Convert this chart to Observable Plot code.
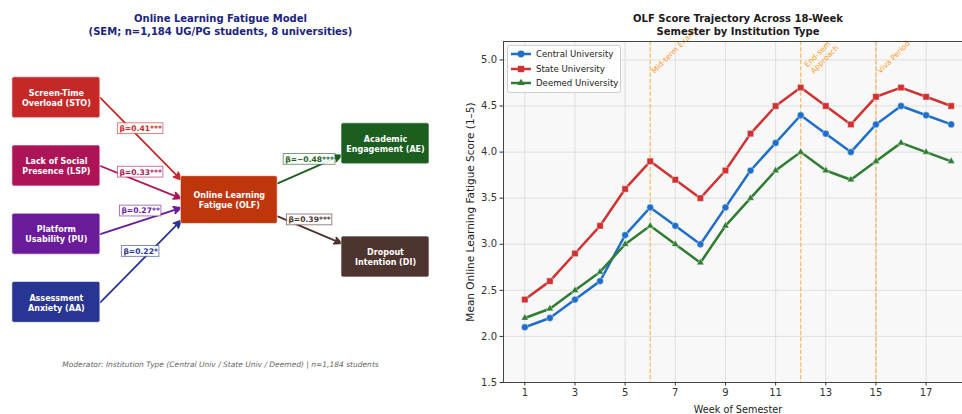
<!DOCTYPE html>
<html>
<head>
<meta charset="utf-8">
<script src="https://cdn.jsdelivr.net/npm/d3@7"></script>
<script src="https://cdn.jsdelivr.net/npm/@observablehq/plot@0.6"></script>
<style>
  html, body { margin: 0; padding: 0; background: #fff; }
  #wrap { position: relative; width: 962px; height: 414px; overflow: hidden; font-family: "DejaVu Sans", sans-serif; }
  #left { position: absolute; left: 0; top: 0; width: 460px; height: 414px; }
  #right { position: absolute; left: 460px; top: 0; width: 512px; height: 414px; }
  #legend { position: absolute; left: 507px; top: 45px; width: 114px; height: 48px; box-sizing: border-box;
            border: 1px solid #cfcfcf; border-radius: 3px; background: rgba(255,255,255,0.85);
            padding: 1px 4px 0 2px; font-size: 8.6px; color: #222; }
  #legend .row { display: flex; align-items: center; height: 14.5px; white-space: nowrap; }
  #legend svg { flex: none; margin-right: 4px; }
</style>
</head>
<body>
<div id="wrap">
  <div id="left"></div>
  <div id="right"></div>
  <div id="legend"></div>
</div>
<script>
// ---------------- data: SEM diagram ----------------
const nodeIds = ["STO", "LSP", "PU", "AA", "OLF", "AE", "DI"];
const nodeLabels = [
  "Screen-Time\nOverload (STO)",
  "Lack of Social\nPresence (LSP)",
  "Platform\nUsability (PU)",
  "Assessment\nAnxiety (AA)",
  "Online Learning\nFatigue (OLF)",
  "Academic\nEngagement (AE)",
  "Dropout\nIntention (DI)"
];
const pathFrom = ["STO", "LSP", "PU", "AA", "OLF", "OLF"];
const pathTo   = ["OLF", "OLF", "OLF", "OLF", "AE", "DI"];
const pathBeta = [0.41, 0.33, 0.27, 0.22, -0.48, 0.39];
const pathSig  = ["***", "***", "**", "*", "***", "***"];
const leftTitle = "Online Learning Fatigue Model\n(SEM; n=1,184 UG/PG students, 8 universities)";
const moderatorNote = "Moderator: Institution Type (Central Univ / State Univ / Deemed) | n=1,184 students";

// ---------------- data: trajectory chart ----------------
const weeks = [1, 2, 3, 4, 5, 6, 7, 8, 9, 10, 11, 12, 13, 14, 15, 16, 17, 18];
const centralUniv = [2.1, 2.2, 2.4, 2.6, 3.1, 3.4, 3.2, 3.0, 3.4, 3.8, 4.1, 4.4, 4.2, 4.0, 4.3, 4.5, 4.4, 4.3];
const stateUniv   = [2.4, 2.6, 2.9, 3.2, 3.6, 3.9, 3.7, 3.5, 3.8, 4.2, 4.5, 4.7, 4.5, 4.3, 4.6, 4.7, 4.6, 4.5];
const deemedUniv  = [2.2, 2.3, 2.5, 2.7, 3.0, 3.2, 3.0, 2.8, 3.2, 3.5, 3.8, 4.0, 3.8, 3.7, 3.9, 4.1, 4.0, 3.9];
const seriesNames = ["Central University", "State University", "Deemed University"];
const eventWeeks  = [6, 12, 15];
const eventLabels = ["Mid-term Exams", "End-sem\nApproach", "Viva Period"];
const xTicks = [1, 3, 5, 7, 9, 11, 13, 15, 17];
const yTicks = [1.5, 2.0, 2.5, 3.0, 3.5, 4.0, 4.5, 5.0];
const rightTitle = "OLF Score Trajectory Across 18-Week\nSemester by Institution Type";
const xLabel = "Week of Semester";
const yLabel = "Mean Online Learning Fatigue Score (1–5)";

// ---------------- layout & styles (diagram units 0–10) ----------------
const layout = {
  STO: {cx: 1.27, cy: 8.35, w: 2.0, h: 1.2},
  LSP: {cx: 1.27, cy: 6.35, w: 2.0, h: 1.2},
  PU:  {cx: 1.27, cy: 4.35, w: 2.0, h: 1.2},
  AA:  {cx: 1.27, cy: 2.35, w: 2.0, h: 1.2},
  OLF: {cx: 5.2,  cy: 5.35, w: 2.2, h: 1.4},
  AE:  {cx: 8.75, cy: 7.0,  w: 2.0, h: 1.2},
  DI:  {cx: 8.75, cy: 3.68, w: 2.0, h: 1.2}
};
const pathAnchors = [
  {fromDy: 0, toDy: 0.6}, {fromDy: 0, toDy: 0.05}, {fromDy: 0, toDy: -0.23}, {fromDy: 0, toDy: -0.6},
  {fromDy: 0.49, toDy: -0.34}, {fromDy: -0.48, toDy: 0.40}
];
const nodeColors = {STO: "#c62828", LSP: "#ad1457", PU: "#6a1b9a", AA: "#283593", OLF: "#bf360c", AE: "#1b5e20", DI: "#4e342e"};
const seriesColors = ["#1f6fc9", "#d03232", "#2e7d32"];
const seriesSymbols = ["circle", "square", "triangle"];
const seriesR = [3.4, 3.6, 2.7];

const FONT = "DejaVu Sans";

// ---------------- left panel ----------------
const L = {width: 460, height: 414, mt: 41, mb: 32, ml: 0, mr: 20};
const pxX = (L.width - L.ml - L.mr) / 10;
const pxY = (L.height - L.mt - L.mb) / 10;
const ctx = document.createElement("canvas").getContext("2d");
ctx.font = `bold 7.6px "${FONT}"`;

const nodes = nodeIds.map((id, i) => ({id, label: nodeLabels[i], ...layout[id], color: nodeColors[id]}));
const paths = pathFrom.map((f, i) => {
  const a = layout[f], b = layout[pathTo[i]], an = pathAnchors[i];
  const x1 = a.cx + a.w / 2, y1 = a.cy + an.fromDy;
  const x2 = b.cx - b.w / 2, y2 = b.cy + an.toDy;
  const beta = pathBeta[i];
  const label = "β=" + (beta < 0 ? "−" : "") + Math.abs(beta).toFixed(2) + pathSig[i];
  const color = f === "OLF" ? nodeColors[pathTo[i]] : nodeColors[f];
  const tw = ctx.measureText(label).width;
  return {x1, y1, x2, y2, mx: (x1 + x2) / 2, my: (y1 + y2) / 2, label, color,
          hw: (tw / 2 + 1.5) / pxX, hh: 5.4 / pxY};
});

const left = Plot.plot({
  width: L.width, height: L.height,
  marginTop: L.mt, marginBottom: L.mb, marginLeft: L.ml, marginRight: L.mr,
  x: {domain: [0, 10], axis: null},
  y: {domain: [0, 10], axis: null},
  style: {fontFamily: FONT, background: "transparent", overflow: "visible"},
  marks: [
    Plot.arrow(paths, {x1: "x1", y1: "y1", x2: "x2", y2: "y2", stroke: "color", fill: "color",
                       strokeWidth: 1.8, headLength: 6.5, headAngle: 50}),
    Plot.rect(nodes, {x1: d => d.cx - d.w / 2, x2: d => d.cx + d.w / 2, y1: d => d.cy - d.h / 2, y2: d => d.cy + d.h / 2,
                      fill: "color", stroke: "white", strokeOpacity: 0.6, strokeWidth: 1, rx: 2}),
    Plot.text(nodes, {x: "cx", y: "cy", text: "label", fill: "white", fontWeight: "bold", fontSize: 8, lineHeight: 1.25}),
    Plot.rect(paths, {x1: d => d.mx - d.hw, x2: d => d.mx + d.hw, y1: d => d.my - d.hh, y2: d => d.my + d.hh,
                      dy: -10, fill: "white", fillOpacity: 0.9, stroke: "color", strokeOpacity: 0.65, strokeWidth: 0.9}),
    Plot.text(paths, {x: "mx", y: "my", dy: -10, text: "label", fill: "color", fontWeight: "bold", fontSize: 7.6}),
    Plot.text([leftTitle], {frameAnchor: "top", dy: -17.5, lineAnchor: "middle", textAnchor: "middle", text: d => d,
                            fill: "#1a237e", fontWeight: "bold", fontSize: 10, lineHeight: 1.3}),
    Plot.text([moderatorNote], {frameAnchor: "bottom", dy: -18, lineAnchor: "middle", textAnchor: "middle", text: d => d,
                                fill: "#666", fontStyle: "italic", fontSize: 7.5})
  ]
});
document.getElementById("left").appendChild(left);

// ---------------- right panel ----------------
const seriesValues = [centralUniv, stateUniv, deemedUniv];
const table = seriesNames.flatMap((s, i) => weeks.map((w, j) => ({series: s, week: w, score: seriesValues[i][j]})));
const events = eventWeeks.map((w, i) => ({week: w, label: eventLabels[i], lines: eventLabels[i].split("\n").length}));

const right = Plot.plot({
  width: 512, height: 414,
  marginTop: 41, marginBottom: 32, marginLeft: 43, marginRight: 0,
  x: {domain: [0.15, 18.85]},
  y: {domain: [1.5, 5.2]},
  style: {fontFamily: FONT, fontSize: "10px", background: "transparent", overflow: "visible"},
  marks: [
    Plot.frame({fill: "#f8f8f8", stroke: null}),
    Plot.gridX({ticks: xTicks, stroke: "#d9d9d9", strokeOpacity: 1, strokeWidth: 0.8}),
    Plot.gridY({ticks: yTicks, stroke: "#d9d9d9", strokeOpacity: 1, strokeWidth: 0.8}),
    Plot.ruleX(eventWeeks, {x: d => d, stroke: "#ff8c00", strokeOpacity: 0.6, strokeWidth: 1.2, strokeDasharray: "4.4,1.9"}),
    ...[1, 2].map(n => Plot.text(events.filter(e => e.lines === n), {
      x: "week", frameAnchor: "top", dy: 32.4, dx: n === 1 ? 4.5 : 13, text: "label", rotate: -45,
      textAnchor: "start", lineAnchor: "bottom", lineHeight: 1.15, fill: "#ff8c00", fillOpacity: 0.9, fontSize: 7.6
    })),
    Plot.line(table, {x: "week", y: "score", z: "series", stroke: d => seriesColors[seriesNames.indexOf(d.series)], strokeWidth: 2.5}),
    ...seriesNames.map((s, i) => Plot.dot(table.filter(d => d.series === s), {
      x: "week", y: "score", symbol: seriesSymbols[i], r: seriesR[i], fill: seriesColors[i], stroke: "white", strokeWidth: 0.4
    })),
    Plot.frame({stroke: "#444", strokeWidth: 1}),
    Plot.axisX({ticks: xTicks, tickSize: 3.5, tickPadding: 3, label: null, color: "#333", fontSize: 10}),
    Plot.axisY({ticks: yTicks, tickSize: 3.5, tickPadding: 3, tickFormat: d3.format(".1f"), label: null, color: "#333", fontSize: 10}),
    Plot.text([rightTitle], {frameAnchor: "top", dy: -17.5, lineAnchor: "middle", textAnchor: "middle", text: d => d,
                             fill: "#1a1a1a", fontWeight: "bold", fontSize: 10, lineHeight: 1.3}),
    Plot.text([xLabel], {frameAnchor: "bottom", dy: 27, lineAnchor: "middle", textAnchor: "middle", text: d => d,
                         fill: "#222", fontSize: 9.7}),
    Plot.text([yLabel], {frameAnchor: "left", dx: -33, rotate: -90, lineAnchor: "middle", textAnchor: "middle", text: d => d,
                         fill: "#222", fontSize: 10.5})
  ]
});
document.getElementById("right").appendChild(right);

// ---------------- legend ----------------
const legend = d3.select("#legend");
seriesNames.forEach((s, i) => {
  const row = legend.append("div").attr("class", "row");
  const svg = row.append("svg").attr("width", 22).attr("height", 10);
  svg.append("line").attr("x1", 1).attr("x2", 21).attr("y1", 5).attr("y2", 5)
     .attr("stroke", seriesColors[i]).attr("stroke-width", 2.5);
  const sym = {circle: d3.symbolCircle, square: d3.symbolSquare, triangle: d3.symbolTriangle}[seriesSymbols[i]];
  svg.append("path").attr("transform", "translate(11,5)")
     .attr("d", d3.symbol(sym, Math.PI * seriesR[i] * seriesR[i])())
     .attr("fill", seriesColors[i]);
  row.append("span").text(s);
});
</script>
</body>
</html>
